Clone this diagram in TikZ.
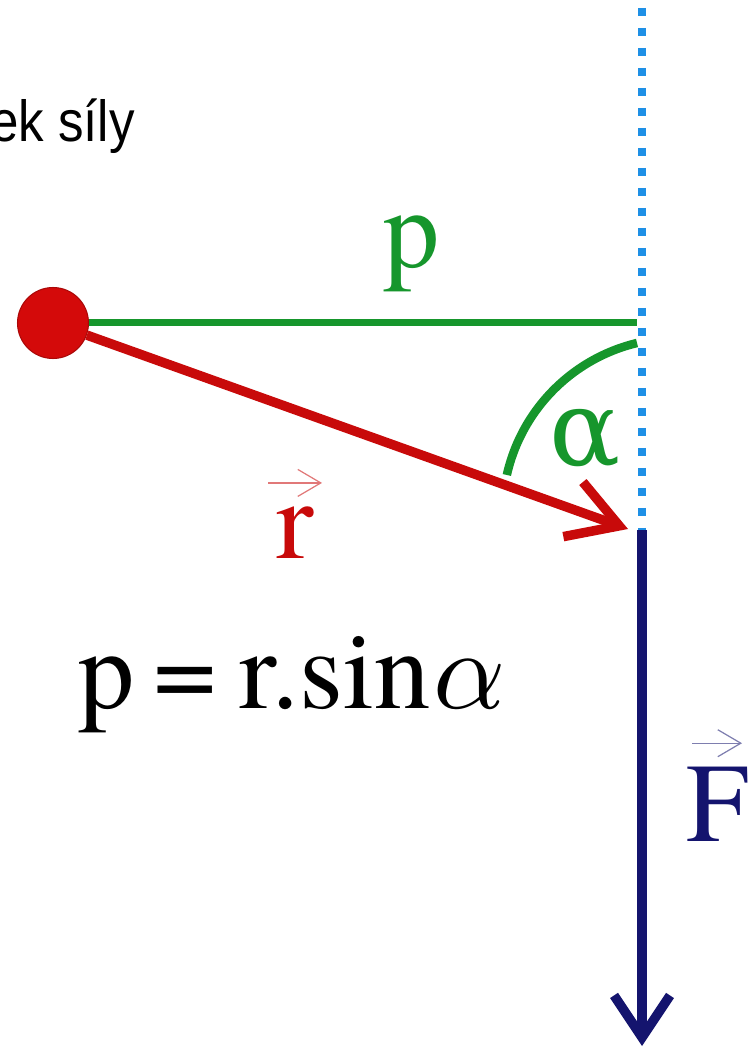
\documentclass[tikz,border=0pt]{standalone}
\usepackage{fontspec}
\newfontfamily\timesfont{texgyretermes-regular.otf}[ItalicFont=texgyretermes-italic.otf]
\newfontfamily\greekfont{DejaVu Serif}
\newfontfamily\narrowsans[FakeStretch=0.88]{Liberation Sans}
\usetikzlibrary{arrows.meta,positioning}
\definecolor{armGreen}{HTML}{16962C}
\definecolor{massRed}{HTML}{D40A0A}
\definecolor{vecRed}{HTML}{C80A0A}
\definecolor{lineBlue}{HTML}{1E90E6}
\definecolor{forceNavy}{HTML}{14146E}
\newcommand{\bigalpha}{\scalebox{6.4}{\fontsize{10}{10}\selectfont$\alpha$}}
\tikzset{
  every node/.style={inner sep=0pt},
  bigtext/.style={font=\timesfont\fontsize{64}{64}\selectfont},
  mass/.style={circle, fill=massRed, draw=massRed!80!black, line width=0.6pt, minimum size=1.42cm},
  armline/.style={draw=armGreen, line width=0.14cm},
  anglearc/.style={draw=armGreen, line width=0.17cm},
  radiusvec/.style={draw=vecRed, line width=0.19cm, -{Straight Barb[sharp, length=0.98cm, width=1.16cm]}},
  actionline/.style={draw=lineBlue, line width=0.16cm, dash pattern=on 0.16cm off 0.24cm},
  forcevec/.style={draw=forceNavy, line width=0.19cm, -{Straight Barb[sharp, length=0.84cm, width=1.12cm]}},
  vecbar/.style={line width=0.7pt, -{Straight Barb[length=0.46cm, width=0.54cm]}},
  armlabel/.style={bigtext, text=armGreen},
  rlabel/.style={bigtext, text=vecRed},
  flabel/.style={bigtext, text=forceNavy},
  formula/.style={bigtext, text=black},
  caption/.style={font=\narrowsans\fontsize{33}{33}\selectfont},
}

\begin{document}
\begin{tikzpicture}[x=0.02cm, y=0.02cm]
  \useasboundingbox (0,0) rectangle (754,-1050);
  \clip (0,0) rectangle (754,-1050);

  % ── Points on the line of action ──
  \coordinate (top)  at (642,-8);
  \coordinate (foot) at (642,-530);
  \coordinate (ftip) at (642,-1046);
  \coordinate (pend) at (637,-323);
  \coordinate (rtip) at (628,-529);

  % ── Line of action (dotted) and force vector ──
  \draw[actionline] (top) -- (foot);
  \draw[forcevec] (foot) -- (ftip);

  % ── Mass point, arm p and position vector r ──
  \node[mass] (m) at (53,-323) {};
  \draw[armline] (m) -- (pend);
  \draw[radiusvec] (m) -- (rtip);

  % ── Angle alpha ──
  \draw[anglearc] (637,-343) arc[start angle=103.5, end angle=167.3, radius=175.4];

  % ── Labels ──
  \node[armlabel, anchor=base] (plab) at (412,-268) {p};
  \node[armlabel, anchor=base] (alab) at (585,-465) {\greekfont\fontsize{60}{60}\selectfont α};
  \node[rlabel, anchor=base] (rlab) at (295,-558) {r};
  \draw[vecbar, draw=vecRed!55] ([shift={(-27,23)}]rlab.north) -- ++(54,0);
  \node[flabel, anchor=base west] (flab) at (686,-841) {F};
  \draw[vecbar, draw=forceNavy!55] ([shift={(6,23)}]flab.north west) -- ++(50,0);

  % ── Formula and caption ──
  \node[formula, anchor=base west] (law) at (78,-708)
    {p\hspace{0.17em}=\hspace{0.2em}r.sin\hspace{0.02em}\bigalpha};
  \node[caption, anchor=base east] (title) at (135,-142) {ek síly};
\end{tikzpicture}
\end{document}
